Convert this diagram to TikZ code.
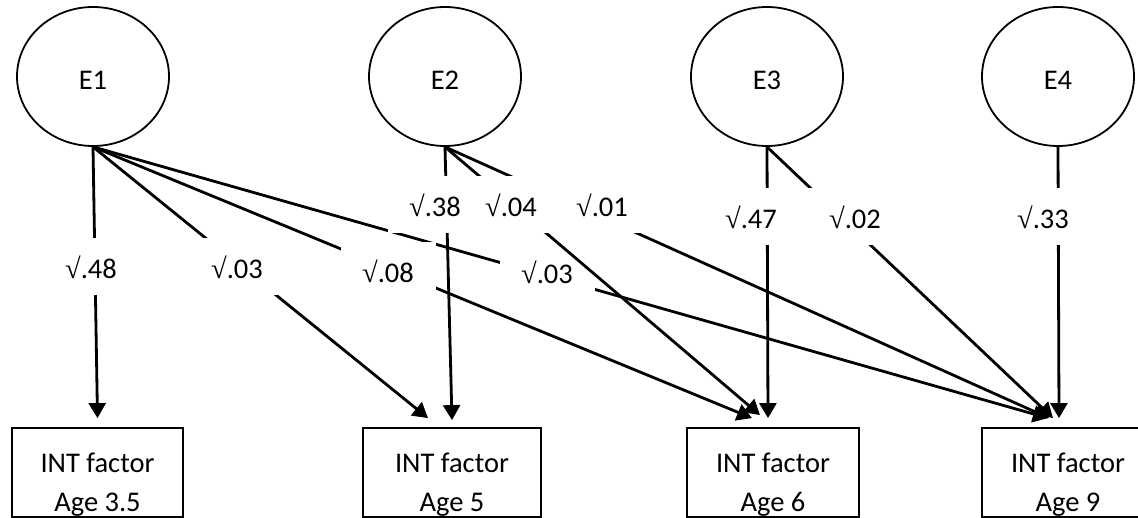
\documentclass[tikz,border=0pt]{standalone}
\usepackage{fontspec}
\setmainfont{Carlito}
\newfontfamily\rootfont{Liberation Serif}
\newcommand{\rtsym}{{\rootfont √}}
\usetikzlibrary{arrows.meta, shapes.geometric}

\begin{document}
\begin{tikzpicture}[
x=1pt, y=-1pt,
texts/.style = {text=black, font=\fontsize{28.5pt}{39.5pt}\selectfont},
latent/.style = {texts, ellipse, draw, line width=1.8pt, minimum width=152pt, minimum height=139pt, inner sep=0pt, text height=26pt, text depth=0pt},
factor/.style = {texts, rectangle, draw, line width=1.8pt, minimum height=89pt, inner sep=0pt, align=center, text height=83pt, text depth=5pt},
loading/.style = {texts, fill=white, minimum width=95pt, minimum height=57pt, inner sep=0pt},
regline/.style = {line width=2.8pt, -{Triangle[length=15pt, width=17pt]}}
]
\useasboundingbox (0,0) rectangle (1138,518);
\clip (0,0) rectangle (1138,518);

\node[latent] (e1) at (93,76.5) {E1};
\node[latent] (e2) at (445,76.5) {E2};
\node[latent] (e3) at (767,76.5) {E3};
\node[latent] (e4) at (1058,76.5) {E4};

\node[factor, minimum width=171pt] (age35) at (97.5,472.5) {INT factor\\Age 3.5};
\node[factor, minimum width=178pt] (age5) at (452,472.5) {INT factor\\Age 5};
\node[factor, minimum width=172pt] (age6) at (773,472.5) {INT factor\\Age 6};
\node[factor, minimum width=172pt] (age9) at (1068,472.5) {INT factor\\Age 9};

% paths from E1
\draw[regline] (e1.south) -- ([yshift=9pt]age35.north);
\draw[regline] (e1.south) -- ([xshift=-24pt, yshift=9pt]age5.north);
\draw[regline] (e1.south) -- ([xshift=-21pt, yshift=9pt]age6.north);
\draw[regline] (e1.south) -- ([xshift=-20pt, yshift=9pt]age9.north);
\node[loading] (l48) at (91,267) {\rtsym.48};
\node[loading] (l03a) at (237,267) {\rtsym.03};
\node[loading] (l08) at (388,271) {\rtsym.08};
\node[loading] (l03b) at (547,272) {\rtsym.03};

% paths from E2
\draw[regline] (e2.south) -- ([yshift=7pt]age5.north);
\draw[regline] (e2.south) -- ([xshift=-13pt, yshift=12pt]age6.north);
\draw[regline] (e2.south) -- ([xshift=-19pt, yshift=9pt]age9.north);
\node[loading] (l38) at (435,205) {\rtsym.38};
\node[loading] (l04) at (511,205) {\rtsym.04};
\node[loading] (l01) at (602,205) {\rtsym.01};

% paths from E3 and E4
\draw[regline] (e3.south) -- ([xshift=-5pt, yshift=9pt]age6.north);
\draw[regline] (e3.south) -- ([xshift=-15pt, yshift=9pt]age9.north);
\draw[regline] (e4.south) -- ([xshift=-9pt, yshift=9pt]age9.north);
\node[loading] (l47) at (751,217) {\rtsym.47};
\node[loading] (l02) at (855,217) {\rtsym.02};
\node[loading] (l33) at (1043,217) {\rtsym.33};
\end{tikzpicture}
\end{document}
